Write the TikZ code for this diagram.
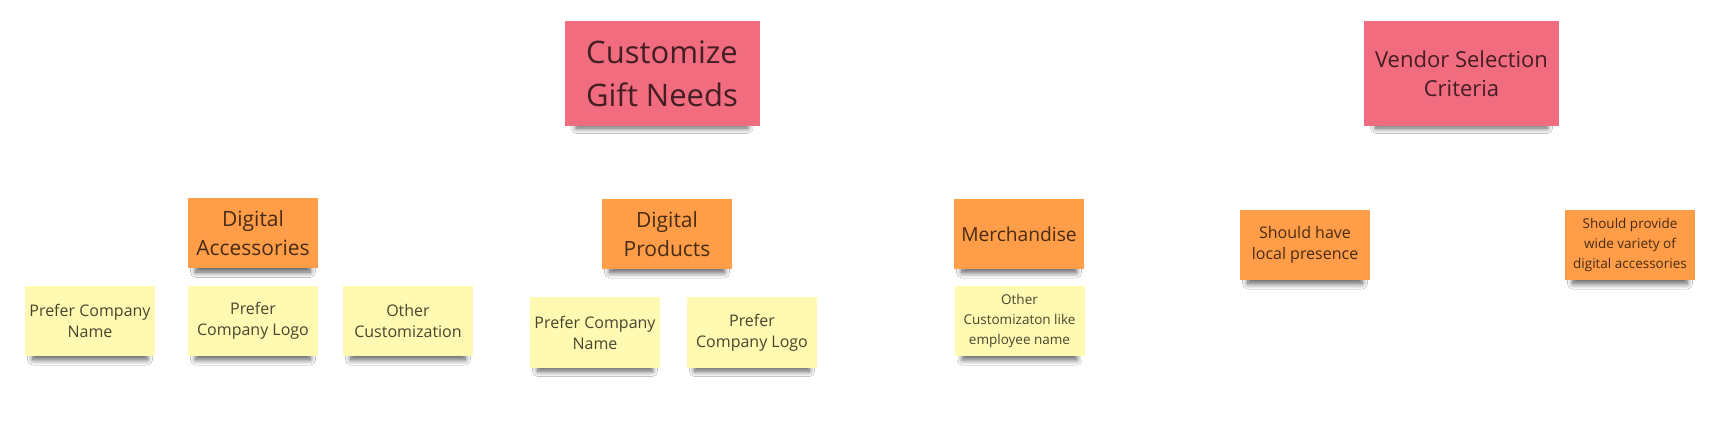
\documentclass[tikz,border=0pt]{standalone}
\usepackage{fontspec}
\setmainfont{Open Sans}
\usepackage{tikz}
\usetikzlibrary{shadows.blur}
\definecolor{cgPink}{HTML}{F16C7F}
\definecolor{cgOrange}{HTML}{FF9D48}
\definecolor{cgYellow}{HTML}{FFF9B1}
\tikzset{
  cgnote/.style={draw=none,fill=cgYellow,text=black,text opacity=0.72,align=center,inner sep=2pt,
                 minimum width=65pt,minimum height=35pt,
                 blur shadow={shadow xshift=0pt,shadow yshift=-4.5pt,shadow scale=0.88,
                              shadow blur radius=3pt,shadow blur steps=10,shadow opacity=65}},
  cgpink/.style={cgnote,fill=cgPink,minimum width=97.5pt,minimum height=52.5pt},
  cgorange/.style={cgnote,fill=cgOrange},
  cgyellow/.style={cgnote,fill=cgYellow},
  cghuge/.style={font=\fontsize{15.5}{21.5}\selectfont},
  cgmid/.style={font=\fontsize{10.5}{14.5}\selectfont},
  cgsmall/.style={font=\fontsize{8}{10.5}\selectfont},
  cgtiny/.style={font=\fontsize{6.75}{10}\selectfont},
}
\begin{document}
\begin{tikzpicture}[x=0.5pt,y=-0.5pt]
  \useasboundingbox[fill=white] (0,0) rectangle (1735,427);
  % top level
  \node[cgpink,cghuge] (CGN) at (662,74)    {Customize\\Gift Needs};
  \node[cgpink,cgmid,font=\fontsize{11}{14.5}\selectfont] (VSC) at (1461.5,74) {Vendor Selection\\Criteria};
  % gift categories
  \node[cgorange,cgmid] (DA) at (253,233.5) {Digital\\Accessories};
  \node[cgorange,cgmid] (DP) at (667,234)   {Digital\\Products};
  \node[cgorange,cgmid,font=\fontsize{9.6}{13}\selectfont] (ME) at (1019,234) {Merchandise};
  % vendor criteria
  \node[cgorange,cgsmall] (LP) at (1305,245) {Should have\\local presence};
  \node[cgorange,cgtiny]  (WV) at (1630,245) {Should provide\\wide variety of\\digital accessories};
  % customization options
  \node[cgyellow,cgsmall] (DAname) at (90,321)    {Prefer Company\\Name};
  \node[cgyellow,cgsmall] (DAlogo) at (253,321)   {Prefer\\Company Logo};
  \node[cgyellow,cgsmall] (DAother) at (408,321)  {Other\\Customization};
  \node[cgyellow,cgsmall] (DPname) at (595,332.5) {Prefer Company\\Name};
  \node[cgyellow,cgsmall] (DPlogo) at (752,332.5) {Prefer\\Company Logo};
  \node[cgyellow,cgtiny]  (MEother) at (1019.5,321) {Other\\Customizaton like\\employee name};
\end{tikzpicture}
\end{document}
